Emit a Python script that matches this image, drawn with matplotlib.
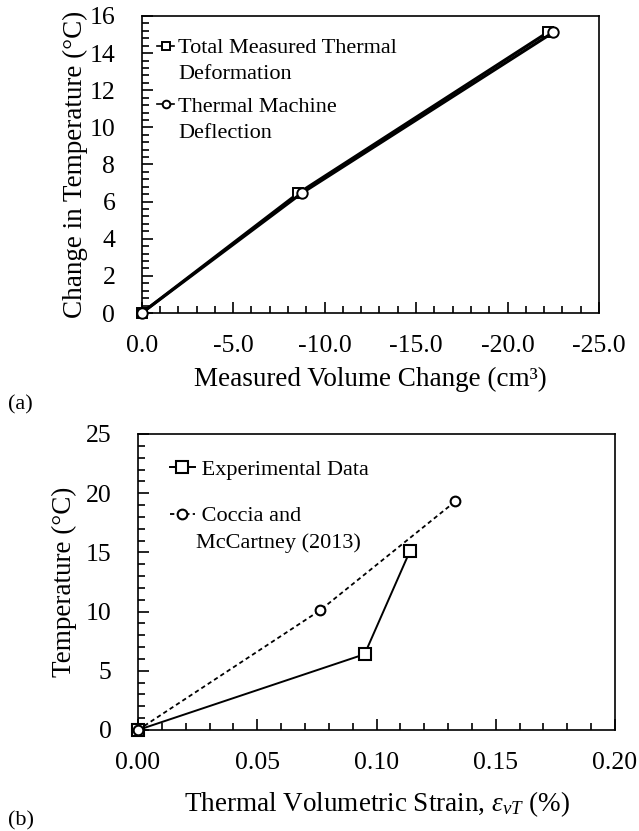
import matplotlib
matplotlib.use("Agg")
import numpy as np
import matplotlib.pyplot as plt
from matplotlib.ticker import MultipleLocator, FuncFormatter
from matplotlib.legend_handler import HandlerLine2D

plt.rcParams['font.family'] = ['Liberation Serif', 'DejaVu Serif']
plt.rcParams['mathtext.fontset'] = 'custom'
plt.rcParams['mathtext.rm'] = 'Liberation Serif'
plt.rcParams['mathtext.it'] = 'Liberation Serif:italic'

# (a) data
total_vol = [0.0, -8.56, -22.2]
total_temp = [0.0, 6.45, 15.12]
machine_vol = [0.0, -8.74, -22.5]
machine_temp = [0.0, 6.45, 15.12]

# (b) data
exp_strain = [0.0, 0.095, 0.114]
exp_temp = [0.0, 6.4, 15.1]
coccia_strain = [0.0, 0.0763, 0.133]
coccia_temp = [0.0, 10.1, 19.3]

TICK_FS = 18.5
LAB_FS = 19.5
LEG_FS = 16


class FirstLineHandler(HandlerLine2D):
    """Legend handle aligned with the first line of a two-line label."""
    def __init__(self, dy, **kw):
        super().__init__(**kw)
        self.dy = dy

    def create_artists(self, legend, orig_handle, xdescent, ydescent, width, height,
                       fontsize, trans):
        arts = super().create_artists(legend, orig_handle, xdescent, ydescent, width,
                                      height, fontsize, trans)
        for a in arts:
            a.set_ydata(np.asarray(a.get_ydata(), float) + self.dy * fontsize)
        return arts


fig = plt.figure(figsize=(6.39, 8.31), dpi=100)

W, H = 639, 831
def rect(l, r, t, b):
    return [l / W, 1 - b / H, (r - l) / W, (b - t) / H]

ax1 = fig.add_axes(rect(141.7, 599, 16, 313))
ax2 = fig.add_axes(rect(138, 615, 434, 730))

mk = dict(markerfacecolor='white', markeredgecolor='black', markeredgewidth=1.4, markersize=7.5,
          clip_on=False)
l1, = ax1.plot(total_vol, total_temp, '-', color='black', lw=2.2, marker='s', zorder=5,
               label='Total Measured Thermal\nDeformation', **mk)
l2, = ax1.plot(machine_vol, machine_temp, '-', color='black', lw=2.2, marker='o', zorder=6,
               label='Thermal Machine\nDeflection', **mk)
ax1.set_xlim(0, -25)
ax1.set_ylim(0, 16)
ax1.xaxis.set_major_locator(MultipleLocator(5))
ax1.xaxis.set_minor_locator(MultipleLocator(1))
ax1.yaxis.set_major_locator(MultipleLocator(2))
ax1.yaxis.set_minor_locator(MultipleLocator(0.4))
ax1.xaxis.set_major_formatter(FuncFormatter(lambda v, p: f"{v:.1f}" if abs(v) > 1e-9 else "0.0"))
ax1.yaxis.set_major_formatter(FuncFormatter(lambda v, p: f"{v:.0f}"))
ax1.set_xlabel('Measured Volume Change (cm³)', fontsize=LAB_FS)
ax1.set_ylabel('Change in Temperature (°C)', fontsize=LAB_FS)
ax1.xaxis.set_label_coords(0.5, -0.182)
ax1.yaxis.set_label_coords(-0.117, 0.5)
leg1 = ax1.legend(loc='upper left', bbox_to_anchor=(0.0, 0.975), frameon=False, fontsize=LEG_FS,
                  handlelength=0.75, handletextpad=0.2, borderaxespad=0.3, labelspacing=0.62,
                  handler_map={l1: FirstLineHandler(0.68), l2: FirstLineHandler(0.68)})
for h in leg1.legend_handles:
    h.set_linewidth(1.2)
    h.set_markersize(5.5)
for t in leg1.get_texts():
    t.set_linespacing(1.5)

ms2 = dict(markerfacecolor='white', markeredgecolor='black', markeredgewidth=1.5,
           clip_on=False)
l3, = ax2.plot(exp_strain, exp_temp, '-', color='black', lw=1.4, marker='s', markersize=8,
               zorder=5, label=' Experimental Data', **ms2)
l4, = ax2.plot(coccia_strain, coccia_temp, '--', color='black', lw=1.3, marker='o', markersize=7,
               zorder=6, dashes=(2.4, 1.8), label=' Coccia and\nMcCartney (2013)', **ms2)
ax2.set_xlim(0, 0.20)
ax2.set_ylim(0, 25)
ax2.xaxis.set_major_locator(MultipleLocator(0.05))
ax2.xaxis.set_minor_locator(MultipleLocator(0.01))
ax2.yaxis.set_major_locator(MultipleLocator(5))
ax2.yaxis.set_minor_locator(MultipleLocator(1))
ax2.xaxis.set_major_formatter(FuncFormatter(lambda v, p: f"{v:.2f}"))
ax2.yaxis.set_major_formatter(FuncFormatter(lambda v, p: f"{v:.0f}"))
ax2.set_xlabel(r'Thermal Volumetric Strain, $\varepsilon_{vT}$ (%)', fontsize=LAB_FS)
ax2.set_ylabel('Temperature (°C)', fontsize=LAB_FS)
ax2.xaxis.set_label_coords(0.5, -0.2)
ax2.yaxis.set_label_coords(-0.128, 0.5)
leg2 = ax2.legend(loc='upper left', bbox_to_anchor=(0.035, 0.968), frameon=False, fontsize=LEG_FS,
                  handlelength=1.1, handletextpad=0.05, borderaxespad=0.3, labelspacing=1.25,
                  handler_map={l3: FirstLineHandler(0.0), l4: FirstLineHandler(0.68)})
for t in leg2.get_texts():
    t.set_linespacing(1.45)

for ax in (ax1, ax2):
    for s in ax.spines.values():
        s.set_linewidth(1.2)
        s.set_color('black')
    ax.tick_params(which='both', direction='in', top=False, right=False, colors='black',
                   labelsize=TICK_FS, width=1.2)
    ax.tick_params(which='major', length=8)
    ax.tick_params(which='minor', length=5)
    ax.tick_params(axis='x', which='major', pad=16)
    ax.tick_params(axis='y', which='major', pad=19)

fig.text(8 / W, 1 - 405 / H, '(a)', fontsize=LEG_FS, ha='left', va='center')
fig.text(8 / W, 1 - 821 / H, '(b)', fontsize=LEG_FS, ha='left', va='center')

fig.savefig('out.png', dpi=100)
